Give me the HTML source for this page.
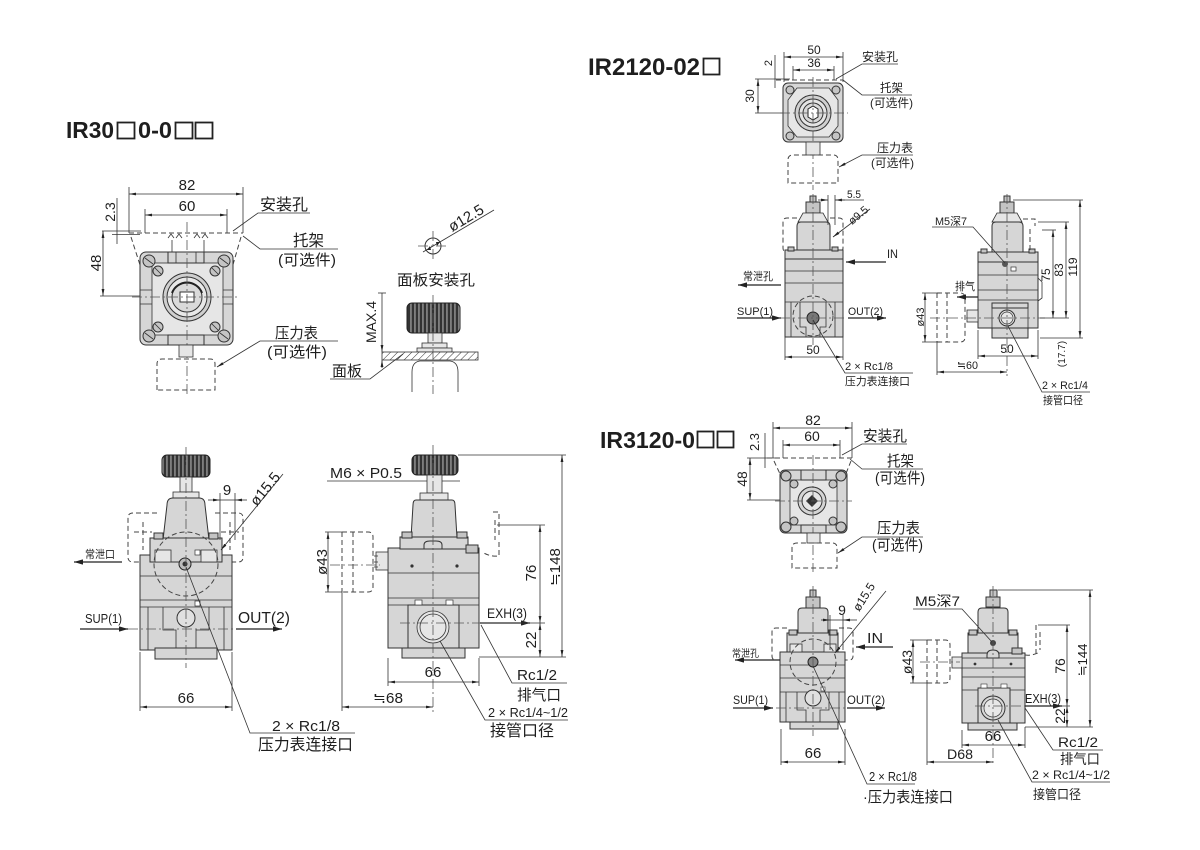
<!DOCTYPE html>
<html><head><meta charset="utf-8"><title>IR dims</title>
<style>
html,body{margin:0;padding:0;background:#fff;width:1200px;height:850px;overflow:hidden}
svg{display:block}
text{font-family:"Liberation Sans","Noto Sans CJK SC",sans-serif;fill:#1e1e1e}
.t{stroke:#333;stroke-width:.8;fill:none}
.d{stroke:#444;stroke-width:1;fill:none;stroke-dasharray:5 3}
.c{stroke:#555;stroke-width:.8;fill:none;stroke-dasharray:10 3 2 3}
.b{fill:#d6d6d6;stroke:#333;stroke-width:1}
.w{fill:#e6e6e6;stroke:#333;stroke-width:.8}
.fa{stroke:#222;stroke-width:1.3;fill:none}
.sc{fill:#c4c4c4;stroke:#333;stroke-width:1}
.tb{fill:none;stroke:#222;stroke-width:1.8}
</style></head><body>
<svg width="1200" height="850" viewBox="0 0 1200 850" xmlns="http://www.w3.org/2000/svg">
<defs>
<marker id="a" viewBox="0 0 10 4" refX="10" refY="2" markerWidth="7" markerHeight="2.8" orient="auto-start-reverse" markerUnits="userSpaceOnUse"><path d="M0,0L10,2L0,4z" fill="#222"/></marker>
<marker id="f" viewBox="0 0 10 6" refX="10" refY="3" markerWidth="9" markerHeight="5.4" orient="auto" markerUnits="userSpaceOnUse"><path d="M0,0L10,3L0,6z" fill="#222"/></marker>
<pattern id="kn" width="4" height="10" patternUnits="userSpaceOnUse"><rect width="4" height="10" fill="#333"/><rect x="2.4" width="1.1" height="10" fill="#b0b0b0"/></pattern>
<pattern id="h" width="5" height="5" patternUnits="userSpaceOnUse" patternTransform="rotate(45)"><rect width="5" height="5" fill="#fff"/><line x1="0" y1="0" x2="0" y2="5" stroke="#333" stroke-width="1"/></pattern>
</defs>

<!-- ================= TITLE 1 ================= -->
<g font-weight="bold" font-size="23">
<text x="66" y="138" textLength="48" lengthAdjust="spacingAndGlyphs">IR30</text>
<rect class="tb" x="117.5" y="122.5" width="17" height="16"/>
<text x="138" y="138" textLength="34" lengthAdjust="spacingAndGlyphs">0-0</text>
<rect class="tb" x="175.5" y="122.5" width="17" height="16"/>
<rect class="tb" x="195.5" y="122.5" width="17" height="16"/>
</g>

<!-- ================= A: top-left plan ================= -->
<line class="t" x1="129" y1="187" x2="129" y2="233"/>
<line class="t" x1="243" y1="187" x2="243" y2="233"/>
<line class="t" x1="129" y1="194" x2="243" y2="194" marker-start="url(#a)" marker-end="url(#a)"/>
<text x="187" y="190" font-size="15" text-anchor="middle">82</text>
<line class="t" x1="145" y1="209" x2="145" y2="233"/>
<line class="t" x1="227" y1="209" x2="227" y2="233"/>
<line class="t" x1="145" y1="215" x2="227" y2="215" marker-start="url(#a)" marker-end="url(#a)"/>
<text x="187" y="211" font-size="15" text-anchor="middle">60</text>
<line class="t" x1="117" y1="198" x2="117" y2="244"/>
<line class="t" x1="102" y1="231" x2="141" y2="231"/>
<line class="t" x1="112" y1="234.5" x2="140" y2="234.5"/>
<text transform="translate(115,212) rotate(-90)" font-size="14" text-anchor="middle">2.3</text>
<line class="t" x1="103" y1="231" x2="103" y2="296" marker-start="url(#a)" marker-end="url(#a)"/>
<line class="t" x1="100" y1="296" x2="141" y2="296"/>
<text transform="translate(101,263) rotate(-90)" font-size="15" text-anchor="middle">48</text>
<path class="d" d="M129,233H243"/>
<path class="d" d="M131,237L141,268M241,237L232,268"/>
<path class="t" d="M168,238l3,-4l3,4M176,238l3,-4l3,4M194,238l3,-4l3,4M202,238l3,-4l3,4M172,240V252M204,240V252"/>
<rect class="b" x="140" y="252" width="93" height="93" rx="6"/>
<rect class="w" x="152" y="263" width="71" height="72"/>
<rect class="b" x="168" y="252" width="36" height="11"/>
<rect class="b" x="168" y="335" width="36" height="10"/>
<path class="t" d="M140,290H152M140,304H152M223,290H233M223,304H233M176,252V263M196,252V263"/>
<g class="sc">
<circle cx="149" cy="261" r="6"/><circle cx="224" cy="261" r="6"/><circle cx="149" cy="336" r="6"/><circle cx="224" cy="336" r="6"/>
<circle cx="158" cy="271" r="5"/><circle cx="215" cy="271" r="5"/><circle cx="158" cy="327" r="5"/><circle cx="215" cy="327" r="5"/>
</g>
<path class="t" d="M145,258l8,6M220,258l8,6M145,333l8,6M220,333l8,6M155,268l6,6M212,268l6,6M155,324l6,6M212,324l6,6"/>
<circle cx="187" cy="297" r="24" fill="#cfcfcf" stroke="#333"/>
<circle cx="187" cy="297" r="20" fill="#e8e8e8" stroke="#333"/>
<circle cx="187" cy="297" r="15" fill="#dadada" stroke="#333"/>
<path d="M172,293A16,16 0 0 1 202,293" stroke="#222" stroke-width="2" fill="none"/>
<rect x="180" y="292" width="14" height="10" fill="#fff" stroke="#333"/>
<path class="c" d="M187,222V396M132,297H240"/>
<rect class="w" x="179" y="345" width="14" height="12"/>
<path class="d" d="M157,390V364Q157,359 162,359H210Q215,359 215,364V390Z"/>
<text x="260" y="210" font-size="16" textLength="48" lengthAdjust="spacingAndGlyphs">安装孔</text>
<path class="t" d="M233,231L258,213H310"/>
<text x="293" y="246" font-size="16" textLength="31" lengthAdjust="spacingAndGlyphs">托架</text>
<path class="t" d="M243,236L260,249H338"/>
<text x="278" y="265" font-size="15" textLength="58" lengthAdjust="spacingAndGlyphs">(可选件)</text>
<text x="275" y="338" font-size="15" textLength="43" lengthAdjust="spacingAndGlyphs">压力表</text>
<path class="t" d="M338,341H260L217,367" marker-end="url(#a)"/>
<text x="267" y="357" font-size="15" textLength="60" lengthAdjust="spacingAndGlyphs">(可选件)</text>

<!-- panel mount -->
<circle cx="433" cy="246" r="8" fill="none" stroke="#333"/>
<path class="c" d="M418,246H449M433,231V262"/>
<line class="t" x1="423" y1="252" x2="494" y2="210"/>
<path d="M440,242l-4,0l1,4z M427,250l4,0l-1,-4z" fill="#222"/>
<text transform="translate(466,218) rotate(-31)" font-size="15" text-anchor="middle" y="5">ø12.5</text>
<text x="397" y="285" font-size="15" textLength="78" lengthAdjust="spacingAndGlyphs">面板安装孔</text>
<text transform="translate(376,322) rotate(-90)" font-size="14" text-anchor="middle">MAX.4</text>
<line class="t" x1="378" y1="293" x2="386" y2="293"/>
<line class="t" x1="382" y1="293" x2="382" y2="352" marker-end="url(#a)"/>
<line class="t" x1="382" y1="368" x2="382" y2="360" marker-end="url(#a)"/>
<rect x="407" y="303" width="53" height="30" rx="5" fill="url(#kn)" stroke="#222"/>
<rect class="w" x="428" y="333" width="14" height="10"/>
<rect class="w" x="422" y="343" width="25" height="5"/>
<rect class="w" x="417" y="348" width="35" height="4"/>
<rect x="382" y="352" width="96" height="8" fill="url(#h)" stroke="#333" stroke-width=".8"/>
<path class="t" d="M412,392V372Q412,362 420,361H450Q458,362 458,372V392"/>
<path class="c" d="M433,295V394"/>
<text x="332" y="376" font-size="15" textLength="30" lengthAdjust="spacingAndGlyphs">面板</text>
<path class="t" d="M330,379H370L403,354"/>

<!-- ================= B: bottom-left front ================= -->
<path class="d" d="M157,513H133Q128,513 128,518V557Q128,562 133,562H157"/>
<path class="d" d="M215,513H238Q243,513 243,518V557Q243,562 238,562H215"/>
<path class="d" d="M134,532H152M143,522V550M221,532H239M230,522V550"/>
<rect x="162" y="455" width="48" height="22" rx="5" fill="url(#kn)" stroke="#222"/>
<rect class="w" x="180" y="477" width="12" height="15"/>
<rect class="w" x="173" y="492" width="26" height="6"/>
<path class="b" d="M167,505Q167,498 173,498H199Q205,498 205,505L209,540H163Z"/>
<rect class="b" x="140" y="555" width="92" height="95"/>
<rect class="b" x="150" y="538" width="72" height="24"/>
<rect class="w" x="155" y="550" width="16" height="12"/>
<rect class="w" x="201" y="550" width="16" height="12"/>
<rect class="sc" x="154" y="533" width="9" height="6"/>
<rect class="sc" x="209" y="533" width="9" height="6"/>
<path class="t" d="M140,576H232M140,600H232M140,607H232M148,607V650M224,607V650M163,607V630H176V650M209,607V630H196V650"/>
<rect class="b" x="155" y="648" width="62" height="11"/>
<circle class="d" cx="186" cy="564" r="32"/>
<circle cx="185" cy="564" r="6" fill="#bbb" stroke="#222"/>
<circle cx="185" cy="564" r="2.5" fill="#333"/>
<circle cx="186" cy="618" r="9" fill="#e0e0e0" stroke="#333"/>
<rect x="195" y="550" width="5" height="5" fill="#fff" stroke="#333" stroke-width=".7"/>
<rect x="195" y="601" width="5" height="5" fill="#fff" stroke="#333" stroke-width=".7"/>
<path class="c" d="M186,447V668M128,629H236"/>
<line class="t" x1="220" y1="493" x2="220" y2="540"/>
<line class="t" x1="235" y1="493" x2="235" y2="540"/>
<line class="t" x1="208" y1="500" x2="220" y2="500" marker-end="url(#a)"/>
<line class="t" x1="247" y1="500" x2="235" y2="500" marker-end="url(#a)"/>
<line class="t" x1="220" y1="500" x2="235" y2="500"/>
<text x="227" y="495" font-size="15" text-anchor="middle">9</text>
<line class="t" x1="283" y1="474" x2="221" y2="550" marker-end="url(#a)"/>
<text transform="translate(265,489) rotate(-51)" font-size="15" text-anchor="middle" y="5">ø15.5</text>
<text x="85" y="558" font-size="11" textLength="30" lengthAdjust="spacingAndGlyphs">常泄口</text>
<line class="fa" x1="122" y1="562" x2="74" y2="562" marker-end="url(#f)"/>
<text x="85" y="623" font-size="13" textLength="37" lengthAdjust="spacingAndGlyphs">SUP(1)</text>
<line class="fa" x1="80" y1="629" x2="128" y2="629" marker-end="url(#f)"/>
<text x="238" y="623" font-size="16" textLength="52" lengthAdjust="spacingAndGlyphs">OUT(2)</text>
<line class="fa" x1="236" y1="629" x2="282" y2="629" marker-end="url(#f)"/>
<line class="t" x1="140" y1="652" x2="140" y2="711"/>
<line class="t" x1="232" y1="652" x2="232" y2="711"/>
<line class="t" x1="140" y1="707" x2="232" y2="707" marker-start="url(#a)" marker-end="url(#a)"/>
<text x="186" y="703" font-size="15" text-anchor="middle">66</text>
<polyline class="t" points="186,567 250,733 355,733"/>
<text x="272" y="731" font-size="15" textLength="68" lengthAdjust="spacingAndGlyphs">2 × Rc1/8</text>
<text x="258" y="750" font-size="16" textLength="95" lengthAdjust="spacingAndGlyphs">压力表连接口</text>

<!-- ================= C: bottom-left side ================= -->
<rect x="412" y="455" width="46" height="20" rx="5" fill="url(#kn)" stroke="#222"/>
<line class="t" x1="458" y1="455" x2="566" y2="455"/>
<text x="330" y="478" font-size="15" textLength="72" lengthAdjust="spacingAndGlyphs">M6 × P0.5</text>
<line class="t" x1="327" y1="481" x2="460" y2="481"/>
<rect class="w" x="427" y="475" width="15" height="18"/>
<rect class="w" x="420" y="493" width="28" height="7"/>
<path class="b" d="M416,500H452Q455,500 455,505L457,538H411L413,505Q413,500 416,500Z"/>
<rect class="b" x="388" y="548" width="91" height="100"/>
<rect class="b" x="400" y="537" width="68" height="12"/>
<rect class="sc" x="402" y="532" width="10" height="6"/>
<rect class="sc" x="457" y="532" width="10" height="6"/>
<path class="b" d="M424,549V545Q424,541 430,541H436Q442,541 442,545V549Z"/>
<path class="t" d="M388,573H479M388,598H479M388,605H479"/>
<circle cx="412" cy="566" r="1.6" fill="#333"/><circle cx="457" cy="566" r="1.6" fill="#333"/>
<rect class="b" x="408" y="605" width="51" height="43"/>
<rect x="415" y="600" width="7" height="5" fill="#fff" stroke="#333" stroke-width=".7"/>
<rect x="446" y="600" width="7" height="5" fill="#fff" stroke="#333" stroke-width=".7"/>
<circle class="w" cx="433" cy="627" r="16"/>
<circle cx="433" cy="627" r="13" fill="#e6e6e6" stroke="#333" stroke-width=".8"/>
<rect class="b" x="402" y="648" width="63" height="10"/>
<rect class="w" x="376" y="552" width="12" height="18"/>
<path class="t" d="M378,556h-4M378,562h-4M378,567h-4"/>
<rect class="sc" x="466" y="545" width="12" height="8"/>
<path class="d" d="M493,512H499V536M495,520V540M499,542V556Q490,557 482,552"/>
<path class="d" d="M342,532H368Q373,532 373,537V587Q373,592 368,592H342M342,532V592M353,532V592"/>
<path class="c" d="M330,565H380M433,445V713M400,623H480"/>
<line class="t" x1="325" y1="532" x2="342" y2="532"/>
<line class="t" x1="325" y1="592" x2="342" y2="592"/>
<line class="t" x1="328" y1="532" x2="328" y2="592" marker-start="url(#a)" marker-end="url(#a)"/>
<text transform="translate(327,562) rotate(-90)" font-size="15" text-anchor="middle">ø43</text>
<line class="t" x1="342" y1="592" x2="342" y2="711"/>
<line class="t" x1="342" y1="707" x2="433" y2="707" marker-start="url(#a)" marker-end="url(#a)"/>
<text x="373" y="703" font-size="15" textLength="30" lengthAdjust="spacingAndGlyphs">≒68</text>
<line class="t" x1="388" y1="658" x2="388" y2="686"/>
<line class="t" x1="479" y1="658" x2="479" y2="686"/>
<line class="t" x1="388" y1="682" x2="479" y2="682" marker-start="url(#a)" marker-end="url(#a)"/>
<text x="433" y="677" font-size="15" text-anchor="middle">66</text>
<text x="487" y="618" font-size="14" textLength="40" lengthAdjust="spacingAndGlyphs">EXH(3)</text>
<line class="fa" x1="480" y1="623" x2="530" y2="623" marker-end="url(#f)"/>
<line class="t" x1="497" y1="525" x2="545" y2="525"/>
<line class="t" x1="481" y1="623" x2="545" y2="623"/>
<line class="t" x1="479" y1="657" x2="566" y2="657"/>
<line class="t" x1="540" y1="525" x2="540" y2="623" marker-start="url(#a)" marker-end="url(#a)"/>
<line class="t" x1="540" y1="623" x2="540" y2="657" marker-start="url(#a)" marker-end="url(#a)"/>
<text transform="translate(536,573) rotate(-90)" font-size="15" text-anchor="middle">76</text>
<text transform="translate(536,640) rotate(-90)" font-size="15" text-anchor="middle">22</text>
<line class="t" x1="562" y1="455" x2="562" y2="657" marker-start="url(#a)" marker-end="url(#a)"/>
<text transform="translate(560,567) rotate(-90)" font-size="15" text-anchor="middle">≒148</text>
<polyline class="t" points="481,625 512,683 567,683"/>
<text x="517" y="680" font-size="15" textLength="40" lengthAdjust="spacingAndGlyphs">Rc1/2</text>
<text x="517" y="700" font-size="15" textLength="44" lengthAdjust="spacingAndGlyphs">排气口</text>
<polyline class="t" points="440,641 485,720 568,720"/>
<text x="488" y="717" font-size="13" textLength="80" lengthAdjust="spacingAndGlyphs">2 × Rc1/4~1/2</text>
<text x="490" y="736" font-size="16" textLength="64" lengthAdjust="spacingAndGlyphs">接管口径</text>

<!-- ================= TITLE 2 ================= -->
<g font-weight="bold" font-size="24">
<text x="588" y="75" textLength="112" lengthAdjust="spacingAndGlyphs">IR2120-02</text>
<rect class="tb" x="703.5" y="58.5" width="16" height="16"/>
</g>

<!-- ================= D: IR2120 plan ================= -->
<line class="t" x1="784" y1="52" x2="784" y2="82"/>
<line class="t" x1="843" y1="52" x2="843" y2="82"/>
<line class="t" x1="784" y1="57" x2="843" y2="57" marker-start="url(#a)" marker-end="url(#a)"/>
<text x="814" y="54" font-size="12" text-anchor="middle">50</text>
<line class="t" x1="793" y1="66" x2="793" y2="80"/>
<line class="t" x1="834" y1="66" x2="834" y2="80"/>
<line class="t" x1="793" y1="70" x2="834" y2="70" marker-start="url(#a)" marker-end="url(#a)"/>
<text x="814" y="67" font-size="12" text-anchor="middle">36</text>
<line class="t" x1="775" y1="55" x2="775" y2="88"/>
<text transform="translate(772,63) rotate(-90)" font-size="11" text-anchor="middle">2</text>
<line class="t" x1="755" y1="79" x2="790" y2="79"/>
<line class="t" x1="755" y1="113" x2="790" y2="113"/>
<line class="t" x1="758" y1="79" x2="758" y2="113" marker-start="url(#a)" marker-end="url(#a)"/>
<text transform="translate(754,96) rotate(-90)" font-size="12" text-anchor="middle">30</text>
<path class="d" d="M776,80H843"/>
<rect class="b" x="783" y="83" width="60" height="59" rx="5"/>
<path class="w" d="M797,88H829L838,100V126L829,137H797L788,126V100Z"/>
<g class="sc"><circle cx="790" cy="90" r="4"/><circle cx="836" cy="90" r="4"/><circle cx="790" cy="136" r="4"/><circle cx="836" cy="136" r="4"/></g>
<circle cx="813" cy="113" r="18" fill="#d0d0d0" stroke="#333"/>
<circle cx="813" cy="113" r="14" fill="#e4e4e4" stroke="#333"/>
<circle cx="813" cy="113" r="10" fill="#d8d8d8" stroke="#333"/>
<path d="M808,109L813,106L818,109V117L813,120L808,117Z" fill="#fff" stroke="#222"/>
<path class="c" d="M813,77V190M780,113H848"/>
<rect class="w" x="806" y="142" width="14" height="13"/>
<path class="d" d="M788,183V160Q788,155 793,155H833Q838,155 838,160V183Z"/>
<text x="862" y="61" font-size="12" textLength="36" lengthAdjust="spacingAndGlyphs">安装孔</text>
<path class="t" d="M836,79L862,64H898"/>
<text x="880" y="92" font-size="12" textLength="23" lengthAdjust="spacingAndGlyphs">托架</text>
<path class="t" d="M843,80L862,95H912"/>
<text x="870" y="107" font-size="12" textLength="43" lengthAdjust="spacingAndGlyphs">(可选件)</text>
<text x="877" y="152" font-size="12" textLength="36" lengthAdjust="spacingAndGlyphs">压力表</text>
<path class="t" d="M913,155H862L839,167" marker-end="url(#a)"/>
<text x="871" y="167" font-size="12" textLength="43" lengthAdjust="spacingAndGlyphs">(可选件)</text>

<!-- ================= E: IR2120 front ================= -->
<path class="d" d="M797,218H787Q783,218 783,222V248Q783,252 787,252H797"/>
<path class="d" d="M830,218H839Q843,218 843,222V248Q843,252 839,252H830"/>
<rect class="sc" x="810" y="196" width="6" height="6"/>
<rect class="sc" x="806" y="202" width="14" height="11"/>
<path class="w" d="M803,213H823L828,222H798Z"/>
<path class="b" d="M797,250V226Q797,222 801,222H826Q830,222 830,226V250Z"/>
<rect class="b" x="785" y="258" width="58" height="79"/>
<rect class="b" x="785" y="250" width="58" height="9"/>
<rect class="sc" x="788" y="247" width="6" height="4"/><rect class="sc" x="832" y="247" width="6" height="4"/>
<path class="t" d="M785,271H843M785,283H843M785,302H843M791,302V337M835,302V337M800,302V327H806V337M826,302V327H820V337"/>
<circle class="d" cx="813" cy="316" r="20"/>
<circle cx="813" cy="318" r="6" fill="#777" stroke="#222"/>
<path class="c" d="M813,194V345M780,318H846"/>
<line class="t" x1="828" y1="195" x2="828" y2="225"/>
<line class="t" x1="835" y1="195" x2="835" y2="225"/>
<line class="t" x1="818" y1="200" x2="828" y2="200" marker-end="url(#a)"/>
<line class="t" x1="845" y1="200" x2="835" y2="200" marker-end="url(#a)"/>
<line class="t" x1="835" y1="200" x2="864" y2="200"/>
<text x="847" y="198" font-size="11" textLength="14" lengthAdjust="spacingAndGlyphs">5.5</text>
<line class="t" x1="870" y1="209" x2="833" y2="237" marker-end="url(#a)"/>
<text transform="translate(858,215) rotate(-40)" font-size="11" text-anchor="middle" y="4">ø9.5</text>
<text x="887" y="258" font-size="12" textLength="11" lengthAdjust="spacingAndGlyphs">IN</text>
<line class="fa" x1="886" y1="262" x2="846" y2="262" marker-end="url(#f)"/>
<text x="743" y="280" font-size="11" textLength="30" lengthAdjust="spacingAndGlyphs">常泄孔</text>
<line class="fa" x1="781" y1="285" x2="738" y2="285" marker-end="url(#f)"/>
<text x="737" y="315" font-size="11" textLength="36" lengthAdjust="spacingAndGlyphs">SUP(1)</text>
<line class="fa" x1="737" y1="318" x2="781" y2="318" marker-end="url(#f)"/>
<text x="848" y="315" font-size="11" textLength="35" lengthAdjust="spacingAndGlyphs">OUT(2)</text>
<line class="fa" x1="848" y1="318" x2="886" y2="318" marker-end="url(#f)"/>
<line class="t" x1="785" y1="337" x2="785" y2="360"/>
<line class="t" x1="843" y1="337" x2="843" y2="360"/>
<line class="t" x1="785" y1="357" x2="843" y2="357" marker-start="url(#a)" marker-end="url(#a)"/>
<text x="813" y="354" font-size="12" text-anchor="middle">50</text>
<polyline class="t" points="813,320 845,373 913,373"/>
<text x="845" y="370" font-size="11" textLength="48" lengthAdjust="spacingAndGlyphs">2 × Rc1/8</text>
<text x="845" y="385" font-size="11" textLength="65" lengthAdjust="spacingAndGlyphs">压力表连接口</text>

<!-- ================= F: IR2120 side ================= -->
<rect class="sc" x="1004" y="196" width="6" height="6"/>
<rect class="sc" x="1000" y="202" width="14" height="11"/>
<path class="w" d="M997,213H1017L1022,222H992Z"/>
<path class="b" d="M992,252V226Q992,222 996,222H1019Q1023,222 1023,226V252Z"/>
<rect class="b" x="978" y="258" width="60" height="70"/>
<rect class="b" x="978" y="252" width="60" height="10"/>
<rect class="sc" x="981" y="249" width="6" height="4"/><rect class="sc" x="1029" y="249" width="6" height="4"/>
<path class="t" d="M978,275H1038M978,290H1038M978,300H1038M992,303V328M1028,303V328"/>
<rect class="b" x="992" y="303" width="36" height="5"/>
<rect class="b" x="992" y="328" width="36" height="10"/>
<circle cx="1007" cy="318" r="8" fill="#e2e2e2" stroke="#333"/>
<circle cx="1007" cy="318" r="6" fill="#e8e8e8" stroke="#333" stroke-width=".7"/>
<circle cx="1005" cy="264" r="3" fill="#555"/>
<rect x="1011" y="267" width="5" height="4" fill="#fff" stroke="#333" stroke-width=".7"/>
<path class="t" d="M1038,278L1042,282V298L1038,301"/>
<path class="d" d="M1023,219H1035V226M1030,229V250"/>
<rect class="w" x="967" y="310" width="11" height="12"/>
<path class="d" d="M937,293H960Q965,293 965,298V337Q965,342 960,342H937M937,293V342M947,293V342"/>
<line class="t" x1="922" y1="293" x2="940" y2="293"/>
<line class="t" x1="922" y1="342" x2="940" y2="342"/>
<line class="t" x1="925" y1="293" x2="925" y2="342" marker-start="url(#a)" marker-end="url(#a)"/>
<text transform="translate(924,317) rotate(-90)" font-size="11" text-anchor="middle">ø43</text>
<path class="c" d="M1007,194V376M930,318H1045"/>
<text x="955" y="290" font-size="11" textLength="20" lengthAdjust="spacingAndGlyphs">排气</text>
<line class="fa" x1="978" y1="297" x2="957" y2="297" marker-end="url(#f)"/>
<text x="935" y="225" font-size="11" textLength="32" lengthAdjust="spacingAndGlyphs">M5深7</text>
<path class="t" d="M932,227H973L1005,263"/>
<line class="t" x1="1013" y1="200" x2="1083" y2="200"/>
<line class="t" x1="1040" y1="338" x2="1083" y2="338"/>
<line class="t" x1="1080" y1="200" x2="1080" y2="338" marker-start="url(#a)" marker-end="url(#a)"/>
<text transform="translate(1077,267) rotate(-90)" font-size="12" text-anchor="middle">119</text>
<line class="t" x1="1038" y1="222" x2="1069" y2="222"/>
<line class="t" x1="1040" y1="318" x2="1069" y2="318"/>
<line class="t" x1="1066" y1="222" x2="1066" y2="318" marker-start="url(#a)" marker-end="url(#a)"/>
<text transform="translate(1063,270) rotate(-90)" font-size="12" text-anchor="middle">83</text>
<line class="t" x1="1042" y1="230" x2="1056" y2="230"/>
<line class="t" x1="1053" y1="230" x2="1053" y2="318" marker-start="url(#a)" marker-end="url(#a)"/>
<text transform="translate(1050,275) rotate(-90)" font-size="12" text-anchor="middle">75</text>
<text transform="translate(1065,354) rotate(-90)" font-size="10" text-anchor="middle">(17.7)</text>
<line class="t" x1="978" y1="330" x2="978" y2="359"/>
<line class="t" x1="1038" y1="330" x2="1038" y2="359"/>
<line class="t" x1="978" y1="356" x2="1038" y2="356" marker-start="url(#a)" marker-end="url(#a)"/>
<text x="1007" y="353" font-size="12" text-anchor="middle">50</text>
<line class="t" x1="937" y1="342" x2="937" y2="375"/>
<line class="t" x1="937" y1="372" x2="1007" y2="372" marker-start="url(#a)" marker-end="url(#a)"/>
<text x="957" y="369" font-size="11" textLength="21" lengthAdjust="spacingAndGlyphs">≒60</text>
<polyline class="t" points="1008,326 1042,392 1090,392"/>
<text x="1042" y="389" font-size="11" textLength="46" lengthAdjust="spacingAndGlyphs">2 × Rc1/4</text>
<text x="1043" y="404" font-size="11" textLength="40" lengthAdjust="spacingAndGlyphs">接管口径</text>

<!-- ================= TITLE 3 ================= -->
<g font-weight="bold" font-size="23">
<text x="600" y="448" textLength="95" lengthAdjust="spacingAndGlyphs">IR3120-0</text>
<rect class="tb" x="697.5" y="431.5" width="16" height="16"/>
<rect class="tb" x="717.5" y="431.5" width="16" height="16"/>
</g>

<!-- ================= G: IR3120 plan ================= -->
<line class="t" x1="773" y1="422" x2="773" y2="458"/>
<line class="t" x1="852" y1="422" x2="852" y2="458"/>
<line class="t" x1="773" y1="428" x2="852" y2="428" marker-start="url(#a)" marker-end="url(#a)"/>
<text x="813" y="425" font-size="14" text-anchor="middle">82</text>
<line class="t" x1="783" y1="440" x2="783" y2="458"/>
<line class="t" x1="840" y1="440" x2="840" y2="458"/>
<line class="t" x1="783" y1="445" x2="840" y2="445" marker-start="url(#a)" marker-end="url(#a)"/>
<text x="812" y="441" font-size="14" text-anchor="middle">60</text>
<line class="t" x1="765" y1="433" x2="765" y2="468"/>
<text transform="translate(759,442) rotate(-90)" font-size="13" text-anchor="middle">2.3</text>
<line class="t" x1="747" y1="458" x2="780" y2="458"/>
<line class="t" x1="747" y1="500" x2="790" y2="500"/>
<line class="t" x1="750" y1="458" x2="750" y2="500" marker-start="url(#a)" marker-end="url(#a)"/>
<text transform="translate(747,479) rotate(-90)" font-size="14" text-anchor="middle">48</text>
<path class="d" d="M767,458H852M774,461L781,476M851,461L845,476"/>
<rect class="b" x="780" y="470" width="67" height="63" rx="5"/>
<rect class="w" x="790" y="480" width="47" height="45"/>
<rect class="b" x="801" y="470" width="25" height="10"/>
<rect class="b" x="801" y="525" width="25" height="8"/>
<g class="sc"><circle cx="786" cy="476" r="5"/><circle cx="841" cy="476" r="5"/><circle cx="786" cy="527" r="5"/><circle cx="841" cy="527" r="5"/>
<circle cx="794" cy="484" r="4"/><circle cx="833" cy="484" r="4"/><circle cx="794" cy="521" r="4"/><circle cx="833" cy="521" r="4"/></g>
<circle cx="812" cy="501" r="14" fill="#d4d4d4" stroke="#333"/>
<circle cx="812" cy="501" r="10" fill="#e6e6e6" stroke="#333"/>
<path d="M812,495L818,501L812,507L806,501Z" fill="#333"/>
<path class="c" d="M813,455V572M775,501H852"/>
<rect class="w" x="807" y="533" width="13" height="10"/>
<path class="d" d="M792,568V548Q792,543 797,543H832Q837,543 837,548V568Z"/>
<text x="863" y="441" font-size="15" textLength="44" lengthAdjust="spacingAndGlyphs">安装孔</text>
<path class="t" d="M842,455L862,444H907"/>
<text x="887" y="466" font-size="15" textLength="27" lengthAdjust="spacingAndGlyphs">托架</text>
<path class="t" d="M850,459L862,469H923"/>
<text x="875" y="483" font-size="15" textLength="50" lengthAdjust="spacingAndGlyphs">(可选件)</text>
<text x="877" y="533" font-size="15" textLength="43" lengthAdjust="spacingAndGlyphs">压力表</text>
<path class="t" d="M923,537H862L838,553" marker-end="url(#a)"/>
<text x="872" y="550" font-size="15" textLength="51" lengthAdjust="spacingAndGlyphs">(可选件)</text>

<!-- ================= H: IR3120 front ================= -->
<path class="d" d="M787,628H776Q772,628 772,632V656Q772,660 776,660H787"/>
<path class="d" d="M839,628H849Q853,628 853,632V656Q853,660 849,660H839"/>
<rect class="sc" x="810" y="590" width="6" height="7"/>
<rect class="sc" x="806" y="597" width="14" height="11"/>
<path class="b" d="M802,608H824Q828,608 828,612V635H798V612Q798,608 802,608Z"/>
<rect class="b" x="780" y="652" width="65" height="70"/>
<rect class="b" x="787" y="633" width="51" height="19"/>
<rect class="w" x="790" y="644" width="12" height="8"/>
<rect class="w" x="824" y="644" width="12" height="8"/>
<rect class="sc" x="789" y="630" width="8" height="5"/><rect class="sc" x="829" y="630" width="8" height="5"/>
<path class="t" d="M780,665H845M780,678H845M780,692H845M786,692V722M839,692V722M797,692V710H806V722M829,692V710H820V722"/>
<rect class="b" x="790" y="722" width="48" height="7"/>
<circle class="d" cx="813" cy="662" r="23"/>
<circle cx="813" cy="662" r="5" fill="#888" stroke="#222"/>
<circle cx="813" cy="698" r="8" fill="#e0e0e0" stroke="#333"/>
<rect x="821" y="687" width="4" height="4" fill="#fff" stroke="#333" stroke-width=".6"/>
<path class="c" d="M813,586V736M776,708H848"/>
<line class="t" x1="830" y1="615" x2="830" y2="650"/>
<line class="t" x1="843" y1="615" x2="843" y2="650"/>
<line class="t" x1="821" y1="620" x2="830" y2="620" marker-end="url(#a)"/>
<line class="t" x1="857" y1="620" x2="843" y2="620" marker-end="url(#a)"/>
<line class="t" x1="830" y1="620" x2="843" y2="620"/>
<text x="842" y="615" font-size="14" text-anchor="middle">9</text>
<line class="t" x1="886" y1="591" x2="835" y2="653" marker-end="url(#a)"/>
<text transform="translate(864,597) rotate(-58)" font-size="12" text-anchor="middle" y="4">ø15.5</text>
<text x="867" y="643" font-size="15" textLength="16" lengthAdjust="spacingAndGlyphs">IN</text>
<line class="fa" x1="893" y1="647" x2="856" y2="647" marker-end="url(#f)"/>
<text x="732" y="657" font-size="10" textLength="27" lengthAdjust="spacingAndGlyphs">常泄孔</text>
<line class="fa" x1="780" y1="660" x2="735" y2="660" marker-end="url(#f)"/>
<text x="733" y="704" font-size="12" textLength="35" lengthAdjust="spacingAndGlyphs">SUP(1)</text>
<line class="fa" x1="733" y1="708" x2="773" y2="708" marker-end="url(#f)"/>
<text x="847" y="704" font-size="12" textLength="38" lengthAdjust="spacingAndGlyphs">OUT(2)</text>
<line class="fa" x1="847" y1="708" x2="885" y2="708" marker-end="url(#f)"/>
<line class="t" x1="781" y1="729" x2="781" y2="765"/>
<line class="t" x1="845" y1="729" x2="845" y2="765"/>
<line class="t" x1="781" y1="762" x2="845" y2="762" marker-start="url(#a)" marker-end="url(#a)"/>
<text x="813" y="758" font-size="15" text-anchor="middle">66</text>
<polyline class="t" points="813,666 867,784 915,784"/>
<text x="869" y="781" font-size="13" textLength="48" lengthAdjust="spacingAndGlyphs">2 × Rc1/8</text>
<text x="863" y="802" font-size="15" textLength="90" lengthAdjust="spacingAndGlyphs">·压力表连接口</text>

<!-- ================= I: IR3120 side ================= -->
<rect class="sc" x="990" y="590" width="7" height="7"/>
<rect class="sc" x="986" y="597" width="14" height="10"/>
<path class="b" d="M982,608H1004Q1008,608 1008,612V634H978V612Q978,608 982,608Z"/>
<rect class="b" x="962" y="653" width="63" height="70"/>
<rect class="b" x="968" y="633" width="50" height="20"/>
<rect class="sc" x="969" y="630" width="8" height="5"/><rect class="sc" x="1009" y="630" width="8" height="5"/>
<path class="b" d="M987,658V655Q987,650 993,650Q999,650 999,655V658Z"/>
<path class="t" d="M962,658H1025M962,668H1025M962,677H1025M962,690H1025"/>
<circle cx="975" cy="664" r="1.4" fill="#333"/><circle cx="1011" cy="664" r="1.4" fill="#333"/>
<rect class="b" x="978" y="688" width="32" height="35"/>
<rect x="981" y="684" width="6" height="4" fill="#fff" stroke="#333" stroke-width=".6"/>
<rect x="1001" y="684" width="6" height="4" fill="#fff" stroke="#333" stroke-width=".6"/>
<circle cx="993" cy="708" r="12" fill="#d8d8d8" stroke="#333"/>
<circle cx="993" cy="708" r="9" fill="#e8e8e8" stroke="#333" stroke-width=".7"/>
<rect class="b" x="968" y="723" width="49" height="7"/>
<circle cx="993" cy="643" r="3" fill="#444"/>
<rect class="w" x="952" y="657" width="10" height="11"/>
<rect class="sc" x="1012" y="648" width="10" height="6"/>
<path class="d" d="M1036,625V655M1040,632V650M1025,655Q1032,656 1040,652"/>
<path class="d" d="M927,640H945Q950,640 950,645V678Q950,683 945,683H927M927,640V683M937,640V683"/>
<line class="t" x1="910" y1="640" x2="927" y2="640"/>
<line class="t" x1="910" y1="683" x2="927" y2="683"/>
<line class="t" x1="913" y1="640" x2="913" y2="683" marker-start="url(#a)" marker-end="url(#a)"/>
<text transform="translate(912,662) rotate(-90)" font-size="14" text-anchor="middle">ø43</text>
<path class="c" d="M993,586V766M920,662H960M975,706H1025"/>
<text x="915" y="606" font-size="14" textLength="45" lengthAdjust="spacingAndGlyphs">M5深7</text>
<path class="t" d="M913,609H962L992,642"/>
<line class="t" x1="998" y1="590" x2="1093" y2="590"/>
<line class="t" x1="1025" y1="727" x2="1093" y2="727"/>
<line class="t" x1="1090" y1="590" x2="1090" y2="727" marker-start="url(#a)" marker-end="url(#a)"/>
<text transform="translate(1087,660) rotate(-90)" font-size="13" text-anchor="middle">≒144</text>
<line class="t" x1="1038" y1="625" x2="1070" y2="625"/>
<line class="t" x1="1025" y1="706" x2="1070" y2="706"/>
<line class="t" x1="1067" y1="625" x2="1067" y2="706" marker-start="url(#a)" marker-end="url(#a)"/>
<line class="t" x1="1067" y1="706" x2="1067" y2="727" marker-start="url(#a)" marker-end="url(#a)"/>
<text transform="translate(1065,666) rotate(-90)" font-size="14" text-anchor="middle">76</text>
<text transform="translate(1065,716) rotate(-90)" font-size="14" text-anchor="middle">22</text>
<text x="1025" y="703" font-size="13" textLength="36" lengthAdjust="spacingAndGlyphs">EXH(3)</text>
<line class="fa" x1="1025" y1="706" x2="1062" y2="706" marker-end="url(#f)"/>
<line class="t" x1="962" y1="730" x2="962" y2="748"/>
<line class="t" x1="1025" y1="727" x2="1025" y2="748"/>
<line class="t" x1="962" y1="745" x2="1025" y2="745" marker-start="url(#a)" marker-end="url(#a)"/>
<text x="993" y="741" font-size="15" text-anchor="middle">66</text>
<line class="t" x1="927" y1="683" x2="927" y2="765"/>
<line class="t" x1="927" y1="762" x2="993" y2="762" marker-start="url(#a)" marker-end="url(#a)"/>
<text x="947" y="759" font-size="14" textLength="26" lengthAdjust="spacingAndGlyphs">D68</text>
<polyline class="t" points="1025,708 1053,750 1103,750"/>
<text x="1058" y="747" font-size="14" textLength="40" lengthAdjust="spacingAndGlyphs">Rc1/2</text>
<text x="1060" y="764" font-size="14" textLength="40" lengthAdjust="spacingAndGlyphs">排气口</text>
<polyline class="t" points="998,720 1032,782 1110,782"/>
<text x="1032" y="779" font-size="12" textLength="78" lengthAdjust="spacingAndGlyphs">2 × Rc1/4~1/2</text>
<text x="1033" y="799" font-size="13" textLength="48" lengthAdjust="spacingAndGlyphs">接管口径</text>
</svg>
</body></html>
